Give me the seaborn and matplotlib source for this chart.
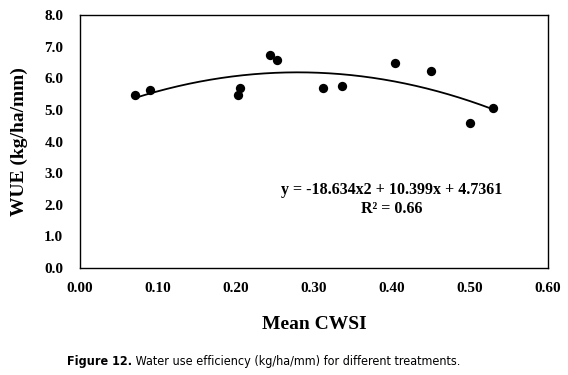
import numpy as np
import pandas as pd
import matplotlib.pyplot as plt
import seaborn as sns

# Mean CWSI vs WUE
cwsi = [0.070, 0.090, 0.202, 0.205, 0.244, 0.252, 0.312, 0.336, 0.404, 0.450, 0.500, 0.530]
wue = [5.47, 5.63, 5.46, 5.69, 6.73, 6.58, 5.68, 5.77, 6.48, 6.22, 4.58, 5.05]

# trendline coefficients as printed on the chart
coef = [-18.634, 10.399, 4.7361]
r2 = 0.66

xticks = [0.0, 0.1, 0.2, 0.3, 0.4, 0.5, 0.6]
yticks = [0.0, 1.0, 2.0, 3.0, 4.0, 5.0, 6.0, 7.0, 8.0]

df = pd.DataFrame({'Mean CWSI': cwsi, 'WUE': wue})
xs = np.linspace(min(cwsi), max(cwsi), 200)
fit = pd.DataFrame({'x': xs, 'y': np.polyval(coef, xs)})

sns.set_style('white')
plt.rcParams['font.family'] = ['Liberation Serif', 'DejaVu Serif']
plt.rcParams['text.color'] = 'black'
plt.rcParams['xtick.color'] = 'black'
plt.rcParams['ytick.color'] = 'black'
plt.rcParams['axes.labelcolor'] = 'black'

fig = plt.figure(figsize=(5.68, 3.75), dpi=100)
ax = fig.add_axes([0.1408, 0.2853, 0.824, 0.6747])

sns.lineplot(data=fit, x='x', y='y', ax=ax, color='black', linewidth=1.3)
sns.scatterplot(data=df, x='Mean CWSI', y='WUE', ax=ax, color='black', s=45,
                edgecolor='black', linewidth=0, zorder=3)

ax.set_xlim(0, 0.6)
ax.set_ylim(0, 8)
ax.set_xticks(xticks)
ax.set_yticks(yticks)
ax.set_xticklabels([f'{v:.2f}' for v in xticks], fontweight='bold', fontsize=11)
ax.set_yticklabels([f'{v:.1f}' for v in yticks], fontweight='bold', fontsize=11)
ax.tick_params(axis='x', length=0, pad=10)
ax.tick_params(axis='y', length=0, pad=12)
for s in ax.spines.values():
    s.set_color('black')
    s.set_linewidth(1.0)

ax.set_xlabel('Mean CWSI', fontweight='bold', fontsize=14, labelpad=15)
ax.set_ylabel('WUE (kg/ha/mm)', fontweight='bold', fontsize=14, labelpad=12)

ax.text(0.40, 2.16, f'y = {coef[0]}x2 + {coef[1]}x + {coef[2]}\nR\u00b2 = {r2}',
        ha='center', va='center', fontsize=11.5, fontweight='bold', linespacing=1.3)

cap_font = dict(family='DejaVu Sans', fontstretch='condensed', fontsize=9)
fig.text(0.2324, 0.037, 'Figure 12.', ha='right', va='center',
         fontweight='bold', **cap_font)
fig.text(0.2324, 0.037, ' Water use efficiency (kg/ha/mm) for different treatments.',
         ha='left', va='center', **cap_font)

fig.savefig('out.png', dpi=100)
